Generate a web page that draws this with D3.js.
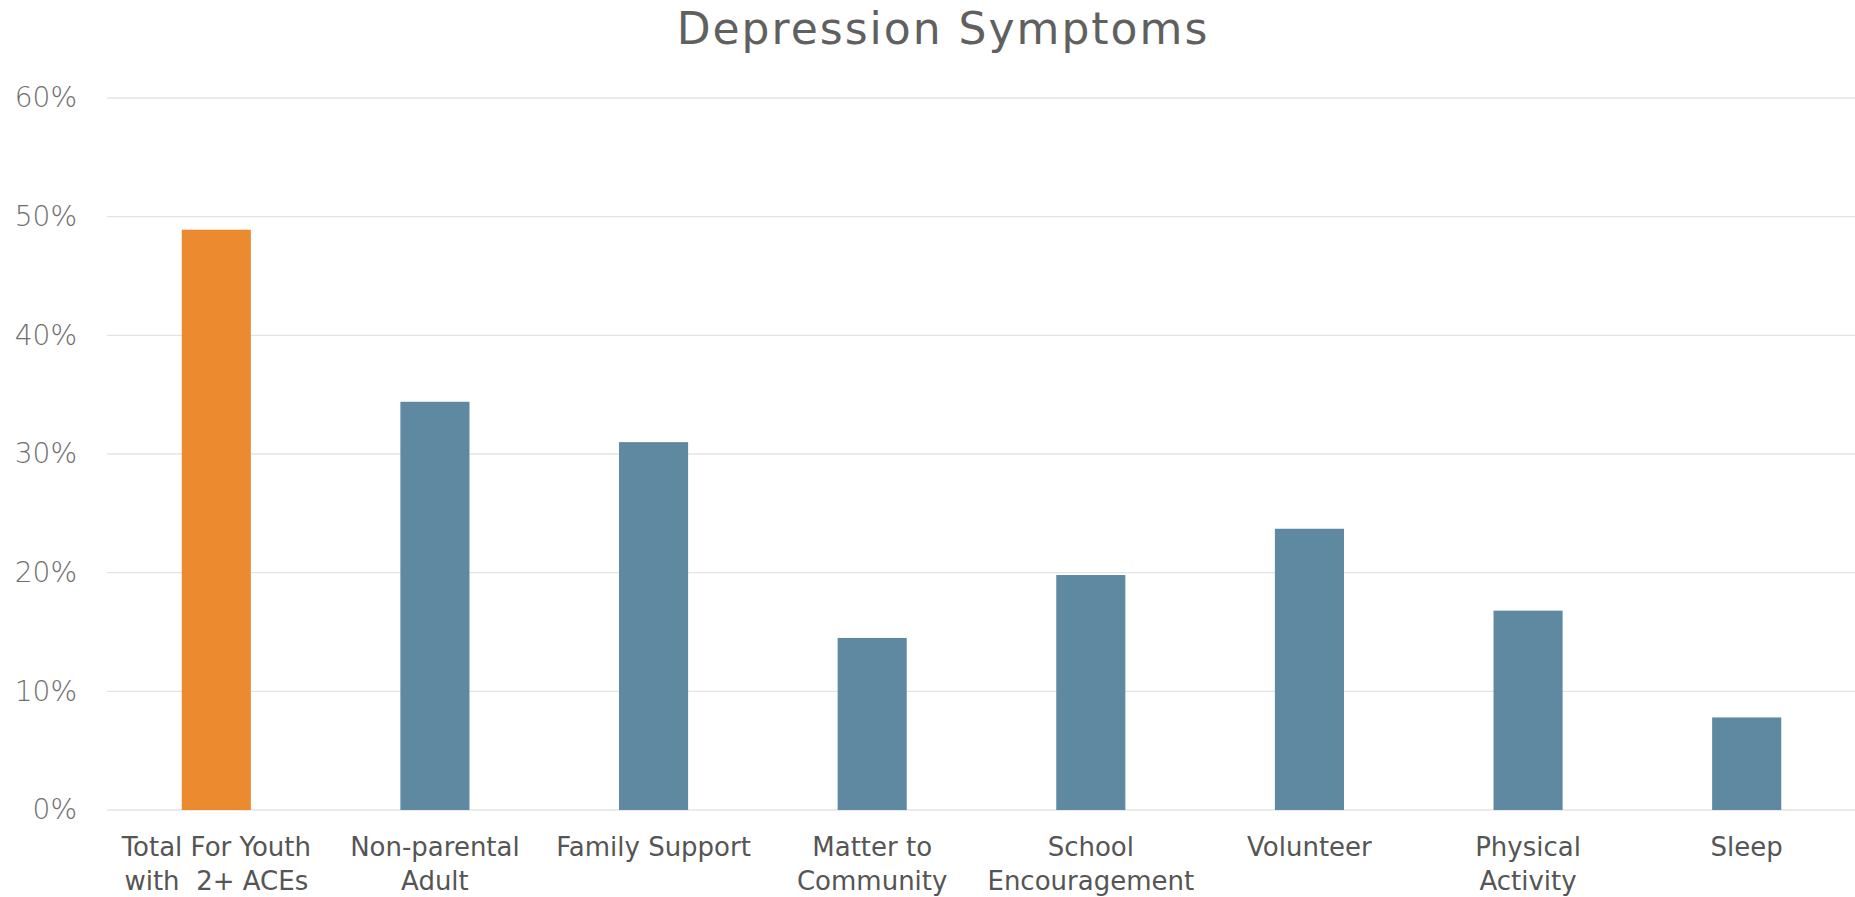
<!DOCTYPE html>
<html>
<head>
<meta charset="utf-8">
<script src="https://cdn.jsdelivr.net/npm/d3@7"></script>
<style>
  body { margin: 0; background: #fff; }
  svg { display: block; }
</style>
</head>
<body>
<div class="graph_container"></div>
<script>
const W = 1855;
const H = 897;
const margin = { top: 98, right: -1, bottom: 87, left: 107 };
const width = W - margin.left - margin.right;
const height = H - margin.top - margin.bottom;

// data
const categories = ['Total For Youth', 'Non-parental', 'Family Support', 'Matter to',
  'School', 'Volunteer', 'Physical', 'Sleep'];
const labelLines = [
  ['Total For Youth', 'with  2+ ACEs'],
  ['Non-parental', 'Adult'],
  ['Family Support'],
  ['Matter to', 'Community'],
  ['School', 'Encouragement'],
  ['Volunteer'],
  ['Physical', 'Activity'],
  ['Sleep']
];
const values = [0.489, 0.344, 0.310, 0.145, 0.198, 0.237, 0.168, 0.078];
const yTicks = [0, 0.1, 0.2, 0.3, 0.4, 0.5, 0.6];

const orange = '#EC8A2F';
const blue = '#5F88A1';

const svg = d3.select('.graph_container').append('svg')
  .attr('width', W)
  .attr('height', H);

const g = svg.append('g')
  .attr('transform', 'translate(' + margin.left + ',' + margin.top + ')');

const x = d3.scaleBand()
  .domain(categories)
  .range([0, width])
  .paddingInner(0.684)
  .paddingOuter(0.342);

const y = d3.scaleLinear()
  .domain([0, 0.6])
  .range([height, 0]);

// gridlines
g.append('g')
  .selectAll('line')
  .data(yTicks)
  .enter().append('line')
  .attr('x1', 0)
  .attr('x2', width)
  .attr('y1', d => y(d))
  .attr('y2', d => y(d))
  .style('stroke', '#E4E4E4')
  .style('stroke-width', 1.3);

// y axis labels
const yAxis = d3.axisLeft(y)
  .tickValues(yTicks)
  .tickSize(0)
  .tickPadding(30)
  .tickFormat(d3.format('.0%'));

g.append('g')
  .attr('class', 'y axis')
  .call(yAxis)
  .call(s => s.select('.domain').remove())
  .selectAll('text')
  .style('font-family', 'DejaVu Sans')
  .style('font-weight', 300)
  .style('font-size', '28px')
  .style('fill', '#6E6E6E');

// bars
g.selectAll('.bar')
  .data(values)
  .enter().append('rect')
  .attr('class', 'bar')
  .attr('x', (d, i) => x(categories[i]))
  .attr('width', x.bandwidth())
  .attr('y', d => y(d))
  .attr('height', d => height - y(d))
  .style('fill', (d, i) => i === 0 ? orange : blue);

// x labels
const xl = g.append('g')
  .selectAll('text')
  .data(labelLines)
  .enter().append('text')
  .attr('x', (d, i) => x(categories[i]) + x.bandwidth() / 2)
  .attr('y', height + 46)
  .style('text-anchor', 'middle')
  .style('font-family', 'DejaVu Sans')
  .style('font-size', '26px')
  .style('fill', '#555555')
  .style('white-space', 'pre');

xl.selectAll('tspan')
  .data(d => d)
  .enter().append('tspan')
  .attr('x', function () { return d3.select(this.parentNode).attr('x'); })
  .attr('dy', (d, i) => i === 0 ? 0 : 34)
  .text(d => d);

// title
svg.append('text')
  .attr('x', 943)
  .attr('y', 44)
  .style('text-anchor', 'middle')
  .style('font-family', 'DejaVu Sans')
  .style('font-size', '44px')
  .style('letter-spacing', '2px')
  .style('fill', '#606060')
  .text('Depression Symptoms');
</script>
</body>
</html>
